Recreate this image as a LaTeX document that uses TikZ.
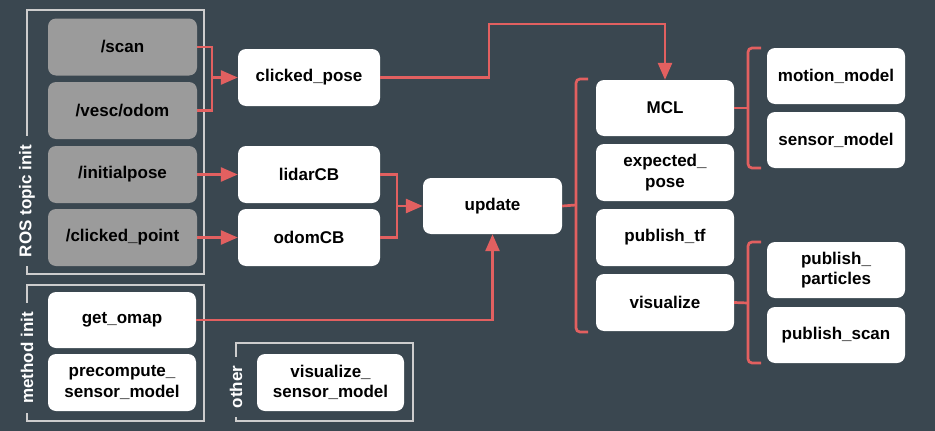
\documentclass[tikz,border=0pt]{standalone}
\usepackage{fontspec}
\setmainfont{Liberation Sans}
\usetikzlibrary{arrows.meta}
\definecolor{bgc}{RGB}{58,71,80}
\definecolor{redc}{RGB}{226,96,96}
\definecolor{grayc}{RGB}{155,155,155}
\definecolor{framec}{RGB}{205,205,205}
\tikzset{
  box/.style={rounded corners=8pt, fill=white, minimum width=142pt, minimum height=57pt, inner sep=0pt, align=center, font=\fontsize{17}{20.5}\selectfont\bfseries, text=black},
  gbox/.style={box, fill=grayc, minimum width=149pt},
  conn/.style={draw=redc, line width=2.7pt},
  arr/.style={conn, -{Triangle[length=17pt,width=14pt]}},
  frm/.style={draw=framec, line width=1.2pt},
  flabel/.style={rotate=90, fill=bgc, text=white, font=\fontsize{17}{20}\selectfont\bfseries, inner xsep=9pt, inner ysep=1pt},
}
\begin{document}
\begin{tikzpicture}[x=1pt,y=-1pt]
\fill[bgc] (0,0) rectangle (935,431);
\useasboundingbox (0,0) rectangle (935,431);

% frames
\draw[frm] (27,10) rectangle (204,274);
\node[flabel] (lros) at (27,201) {ROS topic init};
\draw[frm] (27,285) rectangle (204,421);
\node[flabel] (lmeth) at (27,358) {method init};
\draw[frm] (236,343) rectangle (413,421);
\node[flabel] (loth) at (236,387) {other};

% topic boxes
\node[gbox] (scan) at (122.5,47) {/scan};
\node[gbox] (vesc) at (122.5,110.5) {/vesc/odom};
\node[gbox] (initpose) at (122.5,174.5) {/initialpose};
\node[gbox] (clickpt) at (122.5,237.5) {/clicked\_point};

% method boxes
\node[box, minimum width=148pt, minimum height=56pt] (getomap) at (122,320) {get\_omap};
\node[box, minimum width=148pt] (precomp) at (122,382.5) {precompute\_\\sensor\_model};
\node[box, minimum width=147pt] (vissens) at (330.5,382.5) {visualize\_\\sensor\_model};

% callbacks
\node[box] (clickpose) at (309,77.5) {clicked\_pose};
\node[box] (lidar) at (309,174.5) {lidarCB};
\node[box] (odom) at (309,237.5) {odomCB};

\node[box, minimum width=139pt, minimum height=56pt] (update) at (492.5,206) {update};

\node[box, minimum width=138pt, minimum height=56pt] (mcl) at (665,108) {MCL};
\node[box, minimum width=138pt] (expose) at (665,172.5) {expected\_\\pose};
\node[box, minimum width=138pt] (pubtf) at (665,237.5) {publish\_tf};
\node[box, minimum width=138pt] (visual) at (665,302.5) {visualize};

\node[box, minimum width=138pt, minimum height=56pt] (motion) at (836,76) {motion\_model};
\node[box, minimum width=138pt, minimum height=56pt] (sensor) at (836,140) {sensor\_model};
\node[box, minimum width=138pt, minimum height=56pt] (particles) at (836,270) {publish\_\\particles};
\node[box, minimum width=138pt, minimum height=56pt] (pscan) at (836,335) {publish\_scan};

% connectors
\coordinate (m1) at (212,77.5);
\draw[conn] (scan.east) -| (m1) |- (vesc.east);
\draw[arr] (m1) -- (clickpose.west);
\draw[arr] (initpose.east) -- (lidar.west);
\draw[arr] (clickpt.east) -- (odom.west);

\coordinate (m2) at (397,206);
\draw[conn] (lidar.east) -| (m2) |- (odom.east);
\draw[arr] (m2) -- (update.west);

\coordinate (c1) at (489,24);
\draw[arr] (clickpose.east) -| (c1) -| (mcl.north);

\draw[arr] (getomap.east) -| (update.south);

% braces
\coordinate (b1) at (576,205);
\draw[conn] (update.east) -- (b1);
\draw[conn, rounded corners=4pt] (588,79) -- (576,79) -- (576,332) -- (588,332);

\coordinate (b2) at (748,108);
\draw[conn] (mcl.east) -- (b2);
\draw[conn, rounded corners=4pt] (761,48) -- (748,48) -- (748,168) -- (761,168);

\coordinate (b3) at (748,303);
\draw[conn] (visual.east) -- (b3);
\draw[conn, rounded corners=4pt] (761,242) -- (748,242) -- (748,363) -- (761,363);
\end{tikzpicture}
\end{document}
